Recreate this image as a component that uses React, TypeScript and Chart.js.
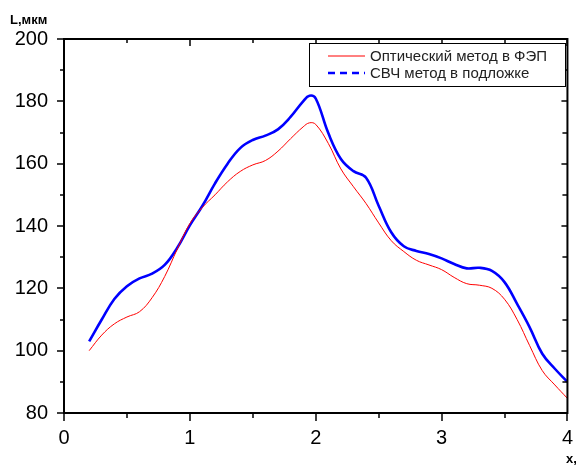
import React, { useEffect, useRef } from "react";
import { Chart, registerables } from "chart.js";

Chart.register(...registerables);

// ---- data ----
const xValues = [
  0.2, 0.3, 0.4, 0.5, 0.6, 0.7, 0.8, 0.9, 1.0, 1.1, 1.2, 1.3, 1.4, 1.5, 1.6, 1.7,
  1.8, 1.9, 1.95, 2.0, 2.1, 2.2, 2.3, 2.4, 2.5, 2.6, 2.7, 2.8, 2.9, 3.0, 3.1, 3.2,
  3.3, 3.4, 3.5, 3.6, 3.7, 3.8, 3.9, 4.0,
];
const opticalValues = [
  100, 105, 108.6, 110.8, 112.5, 117, 123.8, 132.6, 140.8, 146, 150, 154.2, 157.5,
  159.6, 161, 164, 168, 171.8, 173.1, 172.6, 166.5, 158.3, 152.6, 147.2, 141,
  135.3, 131.8, 129, 127.5, 126, 123.5, 121.5, 121, 120, 116.5, 110, 101.6, 93.6,
  89, 84.7,
];
const microwaveValues = [
  103, 110, 116.6, 120.7, 123.2, 124.7, 127.5, 133, 140.2, 146.5, 153.7, 160, 165,
  167.6, 169, 171, 175, 180, 181.8, 180.9, 169.8, 161.5, 157.6, 155.5, 146.5, 138,
  133.5, 132, 131, 129.6, 127.8, 126.4, 126.6, 125.6, 122, 115, 107.5, 99, 94.2, 90,
];
const seriesLabels = ["Оптический метод в ФЭП", "СВЧ метод в подложке"];
const yAxisTitle = "L,мкм";
const xAxisTitle = "x,";
const xMajorTicks = [0, 1, 2, 3, 4];
const xMinorTicks = [0.5, 1.5, 2.5, 3.5];
const yMajorTicks = [80, 100, 120, 140, 160, 180, 200];
const yMinorTicks = [90, 110, 130, 150, 170, 190];

const FONT = '"Liberation Sans", Arial, sans-serif';

const framePlugin = {
  id: "framePlugin",
  afterDraw(chart: any) {
    const { ctx, chartArea: a, scales } = chart;
    const xs = scales.x;
    const ys = scales.y;
    ctx.save();
    // frame
    ctx.strokeStyle = "#000";
    ctx.lineWidth = 2;
    ctx.strokeRect(a.left, a.top, a.right - a.left, a.bottom - a.top);
    // ticks
    ctx.lineWidth = 1.5;
    const line = (x1: number, y1: number, x2: number, y2: number) => {
      ctx.beginPath();
      ctx.moveTo(x1, y1);
      ctx.lineTo(x2, y2);
      ctx.stroke();
    };
    xMajorTicks.forEach((v) => {
      const px = Math.round(xs.getPixelForValue(v));
      line(px, a.bottom, px, a.bottom + 8);
      line(px, a.top, px, a.top + 7);
    });
    xMinorTicks.forEach((v) => {
      const px = Math.round(xs.getPixelForValue(v));
      line(px, a.bottom, px, a.bottom + 5);
      line(px, a.top, px, a.top + 4);
    });
    yMajorTicks.forEach((v) => {
      const py = Math.round(ys.getPixelForValue(v));
      line(a.left - 7, py, a.left, py);
      line(a.right - 6, py, a.right, py);
    });
    yMinorTicks.forEach((v) => {
      const py = Math.round(ys.getPixelForValue(v));
      line(a.left - 4, py, a.left, py);
      line(a.right - 5, py, a.right, py);
    });

    // axis titles
    ctx.fillStyle = "#000";
    ctx.font = `bold 13px ${FONT}`;
    ctx.textAlign = "left";
    ctx.textBaseline = "alphabetic";
    ctx.fillText(yAxisTitle, 10, 23.5);
    ctx.fillText(xAxisTitle, 566, 463);

    // legend
    const lx = 309.5, ly = 43.5, lw = 256, lh = 43;
    ctx.fillStyle = "#fff";
    ctx.fillRect(lx, ly, lw, lh);
    ctx.strokeStyle = "#000";
    ctx.lineWidth = 1;
    ctx.strokeRect(lx, ly, lw, lh);
    const ds = chart.data.datasets;
    const rows = [56, 73];
    ds.forEach((d: any, i: number) => {
      const y = rows[i];
      ctx.strokeStyle = d.borderColor;
      ctx.lineWidth = i === 0 ? 1 : 2.5;
      ctx.setLineDash(i === 0 ? [] : [7, 5]);
      line(328, y, 365, y);
      ctx.setLineDash([]);
      ctx.fillStyle = "#222";
      ctx.font = `15px ${FONT}`;
      ctx.textBaseline = "middle";
      ctx.fillText(d.label, 370, y + 0.5);
    });
    ctx.restore();
  },
};

export default function App() {
  const canvasRef = useRef<HTMLCanvasElement | null>(null);

  useEffect(() => {
    const canvas = canvasRef.current;
    if (!canvas) return;
    const chart = new Chart(canvas, {
      type: "line",
      data: {
        datasets: [
          {
            label: seriesLabels[0],
            data: xValues.map((x, i) => ({ x, y: opticalValues[i] })),
            borderColor: "#ff0000",
            backgroundColor: "#ff0000",
            borderWidth: 1,
            pointRadius: 0,
            tension: 0.4,
            fill: false,
          },
          {
            label: seriesLabels[1],
            data: xValues.map((x, i) => ({ x, y: microwaveValues[i] })),
            borderColor: "#0000ff",
            backgroundColor: "#0000ff",
            borderWidth: 2.6,
            pointRadius: 0,
            tension: 0.4,
            fill: false,
          },
        ],
      },
      options: {
        responsive: false,
        animation: false,
        devicePixelRatio: 1,
        layout: { padding: { top: 39, right: 9, left: 0, bottom: 0 } },
        plugins: {
          legend: { display: false },
          tooltip: { enabled: false },
          title: { display: false },
        },
        scales: {
          x: {
            type: "linear",
            position: "bottom",
            min: 0,
            max: 4,
            afterFit: (s: any) => {
              s.height = 53;
            },
            ticks: {
              stepSize: 1,
              padding: 5,
              color: "#000",
              font: { family: FONT, size: 20 },
              maxRotation: 0,
            },
            grid: { display: false, drawTicks: true, tickLength: 8 },
            border: { display: false },
          },
          y: {
            type: "linear",
            position: "left",
            min: 80,
            max: 200,
            afterFit: (s: any) => {
              s.width = 64;
            },
            ticks: {
              stepSize: 20,
              padding: 8,
              color: "#000",
              font: { family: FONT, size: 20 },
            },
            grid: { display: false, drawTicks: true, tickLength: 8 },
            border: { display: false },
          },
        },
      },
      plugins: [framePlugin],
    });
    return () => chart.destroy();
  }, []);

  return (
    <div style={{ position: "absolute", left: 0, top: 0, width: 578, height: 466, background: "#fff" }}>
      <canvas ref={canvasRef} width={578} height={466} style={{ display: "block" }} />
    </div>
  );
}
